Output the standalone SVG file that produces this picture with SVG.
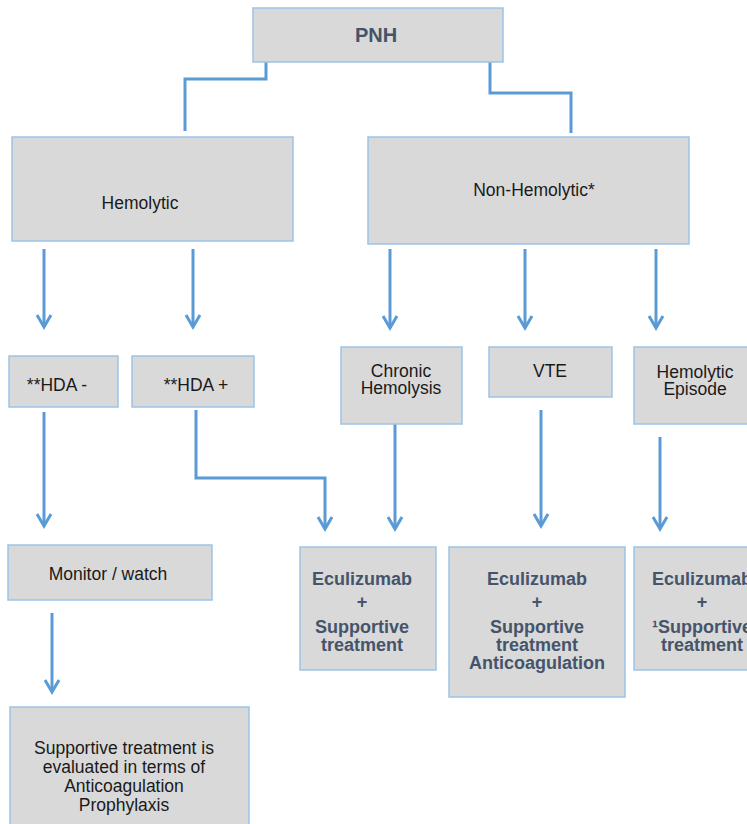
<svg xmlns="http://www.w3.org/2000/svg" width="747" height="824" viewBox="0 0 747 824">
<style>
.box{fill:#d9d9d9;stroke:#9dc3e6;stroke-width:1.5}
.t{font-family:"Liberation Sans",Arial,sans-serif;font-size:17.5px;fill:#1a1a1a;text-anchor:middle}
.b{font-family:"Liberation Sans",Arial,sans-serif;font-size:18px;font-weight:bold;fill:#44546a;text-anchor:middle}
.c{fill:none;stroke:#5b9bd5;stroke-width:3}
</style>
<defs>
<marker id="ah" markerUnits="userSpaceOnUse" markerWidth="20" markerHeight="20" viewBox="-14 -10 16 20" refX="0" refY="0" orient="auto">
<path d="M-12,-7 L0,0 L-12,7" fill="none" stroke="#5b9bd5" stroke-width="3"/>
</marker>
</defs>
<rect width="747" height="824" fill="#ffffff"/>
<g id="connectors">
<path class="c" d="M266,62 V79 H185 V131"/>
<path class="c" d="M490,62 V93 H571 V133"/>
<path class="c" d="M44,249 V327" marker-end="url(#ah)"/>
<path class="c" d="M193,249 V327" marker-end="url(#ah)"/>
<path class="c" d="M390,249 V328" marker-end="url(#ah)"/>
<path class="c" d="M525,249 V328" marker-end="url(#ah)"/>
<path class="c" d="M656,249 V328" marker-end="url(#ah)"/>
<path class="c" d="M44,412 V526" marker-end="url(#ah)"/>
<path class="c" d="M196,410 V478 H325 V529" marker-end="url(#ah)"/>
<path class="c" d="M395,410 V529" marker-end="url(#ah)"/>
<path class="c" d="M541,410 V526" marker-end="url(#ah)"/>
<path class="c" d="M660,437 V529" marker-end="url(#ah)"/>
<path class="c" d="M52,613 V692" marker-end="url(#ah)"/>
</g>
<g id="pnh"><rect class="box" x="253" y="8" width="250" height="54"/><text class="b" style="font-size:20px" x="376" y="42">PNH</text></g>
<g id="hemolytic"><rect class="box" x="12" y="137" width="281" height="104"/><text class="t" x="140" y="209">Hemolytic</text></g>
<g id="nonhemolytic"><rect class="box" x="368" y="137" width="321" height="107"/><text class="t" x="534" y="196">Non-Hemolytic*</text></g>
<g id="hdaminus"><rect class="box" x="9" y="356" width="109" height="51"/><text class="t" x="57" y="391">**HDA -</text></g>
<g id="hdaplus"><rect class="box" x="132" y="356" width="122" height="51"/><text class="t" x="196" y="391">**HDA +</text></g>
<g id="chronic"><rect class="box" x="341" y="347" width="121" height="77"/><text class="t" x="401" y="377">Chronic</text><text class="t" x="401" y="394">Hemolysis</text></g>
<g id="vte"><rect class="box" x="489" y="347" width="123" height="50"/><text class="t" x="550" y="377">VTE</text></g>
<g id="episode"><rect class="box" x="634" y="347" width="120" height="77"/><text class="t" x="695" y="378">Hemolytic</text><text class="t" x="695" y="395">Episode</text></g>
<g id="monitor"><rect class="box" x="8" y="545" width="204" height="55"/><text class="t" x="108" y="580">Monitor / watch</text></g>
<g id="supportive"><rect class="box" x="10" y="707" width="239" height="125"/><text class="t" x="124" y="754">Supportive treatment is</text><text class="t" x="124" y="773">evaluated in terms of</text><text class="t" x="124" y="792">Anticoagulation</text><text class="t" x="124" y="811">Prophylaxis</text></g>
<g id="ecu1"><rect class="box" x="300" y="547" width="136" height="123"/><text class="b" x="362" y="585">Eculizumab</text><text class="b" x="362" y="608">+</text><text class="b" x="362" y="633">Supportive</text><text class="b" x="362" y="651">treatment</text></g>
<g id="ecu2"><rect class="box" x="449" y="547" width="176" height="150"/><text class="b" x="537" y="585">Eculizumab</text><text class="b" x="537" y="608">+</text><text class="b" x="537" y="633">Supportive</text><text class="b" x="537" y="651">treatment</text><text class="b" x="537" y="669">Anticoagulation</text></g>
<g id="ecu3"><rect class="box" x="634" y="547" width="130" height="123"/><text class="b" x="702" y="585">Eculizumab</text><text class="b" x="702" y="608">+</text><text class="b" x="702" y="633">¹Supportive</text><text class="b" x="702" y="651">treatment</text></g>
</svg>
